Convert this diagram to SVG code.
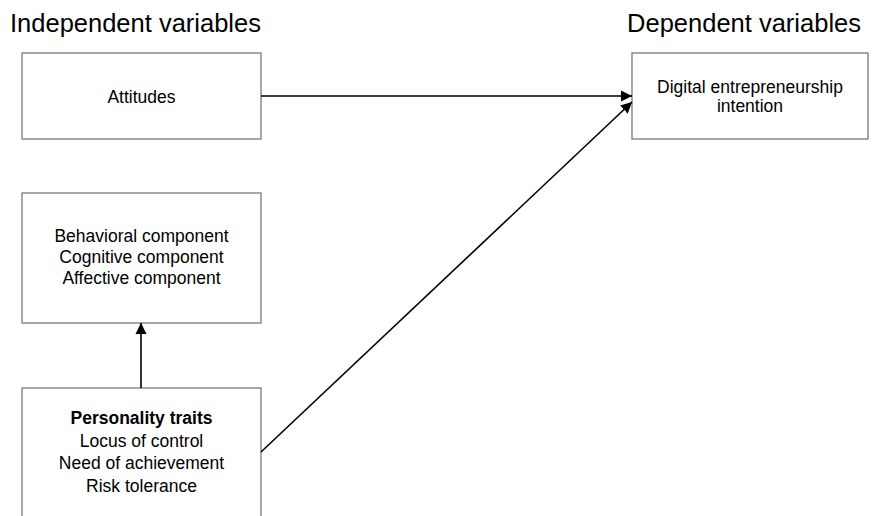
<svg xmlns="http://www.w3.org/2000/svg" width="874" height="516" viewBox="0 0 874 516">
<style>
.box{fill:#fff;stroke:#6e6e6e;stroke-width:1.2}
.t{font-family:"Liberation Sans",Arial,sans-serif;font-size:17.5px;fill:#000;text-anchor:middle}
.h{font-family:"Liberation Sans",Arial,sans-serif;font-size:25.5px;fill:#000}
.c{stroke:#000;stroke-width:1.6;fill:none;marker-end:url(#ah)}
</style>
<defs>
<marker id="ah" viewBox="0 0 10 10" refX="10" refY="5" markerWidth="7" markerHeight="7" orient="auto" markerUnits="strokeWidth">
<path d="M0,0 L10,5 L0,10 Z" fill="#000"/>
</marker>
</defs>
<rect width="874" height="516" fill="#fff"/>
<text class="h" x="10" y="32">Independent variables</text>
<text class="h" x="861" y="32" text-anchor="end">Dependent variables</text>
<g id="attitudes">
<rect class="box" x="22" y="53" width="239" height="86"/>
<text class="t" x="141.5" y="103">Attitudes</text>
</g>
<g id="digital">
<rect class="box" x="632" y="53" width="236" height="86"/>
<text class="t" x="750" y="93">Digital entrepreneurship</text>
<text class="t" x="750" y="112">intention</text>
</g>
<g id="components">
<rect class="box" x="22" y="193" width="239" height="130"/>
<text class="t" x="141.5" y="242">Behavioral component</text>
<text class="t" x="141.5" y="263">Cognitive component</text>
<text class="t" x="141.5" y="284">Affective component</text>
</g>
<g id="personality">
<rect class="box" x="22" y="388" width="239" height="140"/>
<text class="t" x="141.5" y="424" font-weight="bold">Personality traits</text>
<text class="t" x="141.5" y="447">Locus of control</text>
<text class="t" x="141.5" y="469">Need of achievement</text>
<text class="t" x="141.5" y="492">Risk tolerance</text>
</g>
<g id="connectors">
<line class="c" x1="261" y1="96" x2="632" y2="96"/>
<line class="c" x1="261" y1="452" x2="632" y2="102"/>
<line class="c" x1="141" y1="388" x2="141" y2="323"/>
</g>
</svg>
